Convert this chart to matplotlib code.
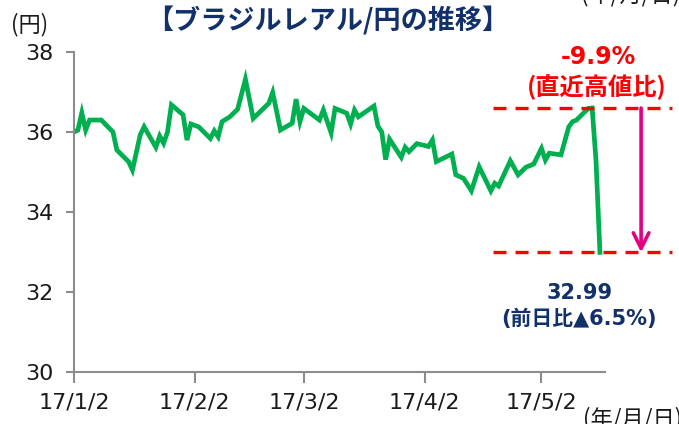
import matplotlib
matplotlib.use("Agg")
import matplotlib.pyplot as plt
import pandas as pd

plt.rcParams['font.family'] = ['DejaVu Sans', 'Noto Sans CJK JP']
CJK = ['Noto Sans CJK JP', 'DejaVu Sans']
MIX = ['DejaVu Sans', 'Noto Sans CJK JP']

# ---- data ----
start_date = "2017-01-02"
day_offsets = [0, 1, 2, 3, 4, 7, 10, 11, 14, 15, 17, 18, 21, 22, 23, 24, 25, 28, 29, 30,
               32, 35, 36, 37, 38, 40, 42, 44, 46, 50, 51, 53, 56, 57, 58, 59, 63, 64, 66, 67,
               70, 71, 72, 73, 77, 78, 79, 80, 81, 84, 85, 86, 88, 91, 92, 93, 97, 98, 100, 102,
               104, 107, 108, 109, 112, 114, 116, 118, 120, 121, 122, 125, 127, 128, 129, 132,
               133, 134, 135]
rates = [36.00, 36.05, 36.48, 36.05, 36.30, 36.30, 36.00, 35.55, 35.26, 35.05, 35.93, 36.13,
         35.62, 35.90, 35.72, 36.00, 36.68, 36.43, 35.80, 36.20,
         36.13, 35.84, 36.03, 35.88, 36.26, 36.38, 36.57, 37.32, 36.34, 36.72, 36.99, 36.05,
         36.22, 36.82, 36.26, 36.59, 36.30, 36.55, 35.98, 36.59,
         36.47, 36.20, 36.55, 36.38, 36.65, 36.15, 36.00, 35.31, 35.82, 35.37, 35.62, 35.51,
         35.71, 35.64, 35.80, 35.26, 35.45, 34.93, 34.84, 34.53,
         35.13, 34.53, 34.72, 34.65, 35.28, 34.93, 35.12, 35.20, 35.59, 35.30, 35.47, 35.43,
         36.13, 36.26, 36.30, 36.59,
         36.60, 35.28, 32.99]
tick_dates = ["2017-01-02", "2017-02-02", "2017-03-02", "2017-04-02", "2017-05-02"]
tick_labels = ["17/1/2", "17/2/2", "17/3/2", "17/4/2", "17/5/2"]
y_ticks = [30, 32, 34, 36, 38]
recent_high = 36.60
last_close = 32.99
pct_from_high = "-9.9%"
pct_from_prev = "(前日比▲6.5%)"

dates = pd.to_datetime(start_date) + pd.to_timedelta(day_offsets, unit="D")

fig = plt.figure(figsize=(6.79, 4.24), dpi=100)
ax = fig.add_axes([0.109, 0.1226, 0.782, 0.7547])

ax.plot(dates, rates, color='#00B050', lw=3.4, solid_joinstyle='miter')

ax.set_ylim(30, 38)
ax.set_yticks(y_ticks)
ax.set_xlim(pd.to_datetime(start_date), pd.to_datetime(start_date) + pd.Timedelta(days=136.3))
ax.set_xticks(pd.to_datetime(tick_dates))
ax.set_xticklabels(tick_labels)

for s in ['top', 'right']:
    ax.spines[s].set_visible(False)
for s in ['left', 'bottom']:
    ax.spines[s].set_color('#8c8c8c')
    ax.spines[s].set_linewidth(1.5)
ax.tick_params(axis='both', colors='#8c8c8c', labelcolor='#1a1a1a', width=1.5,
               labelsize=16, direction='out')
ax.tick_params(axis='y', length=6, pad=9)
ax.tick_params(axis='x', length=8, pad=7)

# dashed reference lines
dash = (0, (3.9, 2.7))
ax.axhline(recent_high, xmin=0.789, xmax=1.126, clip_on=False, color='#FF0000', lw=2.4, ls=dash)
ax.axhline(last_close, xmin=0.789, xmax=1.126, clip_on=False, color='#FF0000', lw=2.4, ls=dash)

# magenta arrow
ax.annotate('', xy=(1.068, last_close), xytext=(1.068, recent_high),
            xycoords=ax.get_yaxis_transform(), textcoords=ax.get_yaxis_transform(),
            annotation_clip=False,
            arrowprops=dict(arrowstyle='->', color='#E4007F', lw=2.6, mutation_scale=28,
                            shrinkA=0, shrinkB=0))

navy = '#12306A'
fig.text(0.482, 0.951, '【ブラジルレアル/円の推移】', ha='center', va='center',
         fontsize=19.5, fontweight='bold', color=navy, family=CJK)
fig.text(0.043, 0.943, '(円)', ha='center', va='center', fontsize=16, color='#1a1a1a', family=CJK)
fig.text(0.858, 0.012, '(年/月/日)', ha='left', va='center', fontsize=16, color='#1a1a1a', family=CJK)
fig.text(0.855, 1.012, '(年/月/日)', ha='left', va='center', fontsize=16, color='#1a1a1a', family=CJK)

fig.text(0.881, 0.866, pct_from_high, ha='center', va='center', fontsize=17,
         fontweight='bold', color='#FF0000', family=MIX)
fig.text(0.879, 0.795, '(直近高値比)', ha='center', va='center', fontsize=17.5,
         fontweight='bold', color='#FF0000', family=CJK)
fig.text(0.853, 0.309, f'{last_close:.2f}', ha='center', va='center', fontsize=15,
         fontweight='bold', color=navy, family=MIX)
fig.text(0.853, 0.248, pct_from_prev, ha='center', va='center', fontsize=15,
         fontweight='bold', color=navy, family=MIX)

fig.savefig('out.png', dpi=100)
